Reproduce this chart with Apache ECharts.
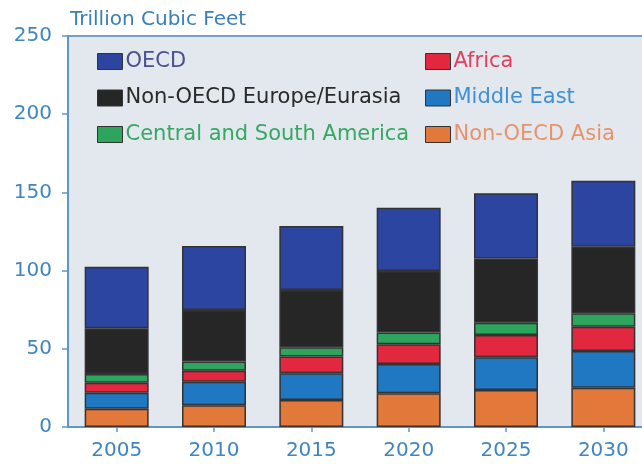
<!DOCTYPE html>
<html>
<head>
<meta charset="utf-8">
<script src="https://cdn.jsdelivr.net/npm/echarts@6/dist/echarts.min.js"></script>
<style>
  html, body { margin: 0; padding: 0; background: #ffffff; overflow: hidden; }
  #chart { width: 662px; height: 469px; }
</style>
</head>
<body>
<div id="chart"></div>
<script>
// Natural gas production by region, trillion cubic feet
const years = ['2005', '2010', '2015', '2020', '2025', '2030'];
const nonOecdAsia   = [11.7, 13.9, 17.3, 21.5, 23.7, 25.1];
const middleEast    = [10.2, 15.1, 17.0, 18.8, 20.9, 23.5];
const africa        = [6.4, 7.0, 10.7, 12.6, 14.2, 15.5];
const centralSouthAmerica = [5.6, 5.8, 6.0, 7.6, 7.9, 8.6];
const nonOecdEurope = [29.2, 33.0, 36.6, 39.2, 41.1, 42.6];
const oecd          = [39.4, 40.9, 40.9, 40.5, 41.6, 42.2];
const yTicks = { min: 0, max: 250, step: 50 };

const FONT = 'DejaVu Sans';
const AXIS_BLUE = '#5d97c9';
const LABEL_BLUE = '#3f86c1';

const seriesDefs = [
  { name: 'Non-OECD Asia', data: nonOecdAsia, color: '#e2793a', text: '#e8936a' },
  { name: 'Middle East', data: middleEast, color: '#1f78c1', text: '#3f90d2' },
  { name: 'Africa', data: africa, color: '#e1283f', text: '#e0405c' },
  { name: 'Central and South America', data: centralSouthAmerica, color: '#2da55c', text: '#35a862' },
  { name: 'Non-OECD Europe/Eurasia', data: nonOecdEurope, color: '#262626', text: '#2a2a2a' },
  { name: 'OECD', data: oecd, color: '#2b45a0', text: '#4a5090' }
];
const byName = {};
seriesDefs.forEach(s => { byName[s.name] = s; });

function legendItems(names) {
  return names.map(n => ({ name: n, textStyle: { color: byName[n].text } }));
}
function legendBlock(names, left) {
  return {
    orient: 'vertical',
    left: left,
    top: 46,
    itemWidth: 25,
    itemHeight: 16,
    itemGap: 15.5,
    selectedMode: false,
    icon: 'rect',
    itemStyle: { borderColor: '#333333', borderWidth: 1 },
    textStyle: { fontFamily: FONT, fontSize: 21, lineHeight: 21, padding: [0, 0, 0, -2] },
    data: legendItems(names)
  };
}

const chart = echarts.init(document.getElementById('chart'), null, { renderer: 'canvas' });
chart.setOption({
  backgroundColor: '#ffffff',
  animation: false,
  title: {
    text: 'Trillion Cubic Feet',
    left: 65,
    top: 5,
    textStyle: { fontFamily: FONT, fontSize: 20, fontWeight: 'normal', color: '#3a7fb8' }
  },
  legend: [
    legendBlock(['OECD', 'Non-OECD Europe/Eurasia', 'Central and South America'], 92),
    legendBlock(['Africa', 'Middle East', 'Non-OECD Asia'], 420)
  ],
  grid: {
    show: true,
    left: 68,
    top: 36,
    width: 584,
    bottom: 42,
    backgroundColor: '#e3e8ef',
    borderColor: '#7d9fbf',
    borderWidth: 2
  },
  xAxis: {
    type: 'category',
    data: years,
    axisLine: { lineStyle: { color: AXIS_BLUE, width: 2 } },
    axisTick: { show: true, alignWithLabel: true, length: 5, lineStyle: { color: AXIS_BLUE, width: 1.5 } },
    axisLabel: { fontFamily: FONT, fontSize: 20, color: LABEL_BLUE, margin: 14 }
  },
  yAxis: {
    type: 'value',
    min: yTicks.min,
    max: yTicks.max,
    interval: yTicks.step,
    axisLine: { show: true, lineStyle: { color: AXIS_BLUE, width: 2 } },
    axisTick: { show: true, length: 6, lineStyle: { color: AXIS_BLUE, width: 1.5 } },
    splitLine: { show: false },
    axisLabel: { fontFamily: FONT, fontSize: 20, color: LABEL_BLUE, margin: 16 }
  },
  series: seriesDefs.map(s => ({
    name: s.name,
    type: 'bar',
    stack: 'total',
    barWidth: 64,
    data: s.data,
    itemStyle: { color: s.color, borderColor: '#333333', borderWidth: 1.5 }
  }))
});
</script>
</body>
</html>
